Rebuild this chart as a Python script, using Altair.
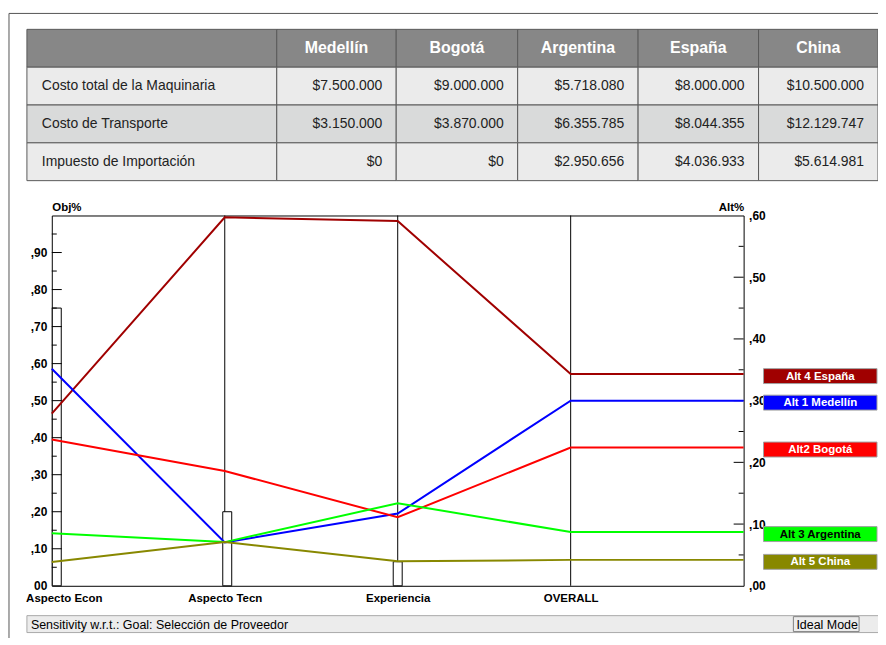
import altair as alt
import pandas as pd

# ---------------- data ----------------
table_columns = ["Medellín", "Bogotá", "Argentina", "España", "China"]
table_rows = ["Costo total de la Maquinaria", "Costo de Transporte", "Impuesto de Importación"]
costo_maquinaria = ["$7.500.000", "$9.000.000", "$5.718.080", "$8.000.000", "$10.500.000"]
costo_transporte = ["$3.150.000", "$3.870.000", "$6.355.785", "$8.044.355", "$12.129.747"]
impuesto_importacion = ["$0", "$0", "$2.950.656", "$4.036.933", "$5.614.981"]

criteria = ["Aspecto Econ", "Aspecto Tecn", "Experiencia", "OVERALL"]
criteria_weights = [0.75, 0.20, 0.065]          # Obj% bars
alternatives = ["Alt 4 España", "Alt 1 Medellín", "Alt2 Bogotá", "Alt 3 Argentina", "Alt 5 China"]
alt_colors = ["#a00000", "#0000ff", "#ff0000", "#00ff00", "#888800"]
# Obj% of each alternative at Aspecto Econ, Aspecto Tecn, Experiencia
espana_obj = [0.465, 0.995, 0.985]
medellin_obj = [0.586, 0.117, 0.195]
bogota_obj = [0.395, 0.310, 0.185]
argentina_obj = [0.142, 0.118, 0.223]
china_obj = [0.064, 0.118, 0.066]
# Alt% overall
overall_alt = [0.343, 0.300, 0.224, 0.087, 0.042]

left_major = [0.1, 0.2, 0.3, 0.4, 0.5, 0.6, 0.7, 0.8, 0.9]
left_minor = [0.05, 0.15, 0.25, 0.35, 0.45, 0.55, 0.65, 0.75, 0.85, 0.95]
right_major = [0.1, 0.2, 0.3, 0.4, 0.5]
right_minor = [0.05, 0.15, 0.25, 0.35, 0.45, 0.55]
ALT_MAX = 0.6

# ---------------- layout ----------------
PLOT_L, PLOT_T, PLOT_W, PLOT_H = 52, 215, 695, 372
col_edges = [27, 278, 398, 520, 641, 762, 882]
row_edges = [28, 66, 104, 142, 180]
row_bg = ["#878787", "#ebebeb", "#d9dada", "#ebebeb"]
FONT = "Liberation Sans"
TFONT = "Liberation Sans"


def rx(px):
    return px - PLOT_L


def ry(py):
    return py - PLOT_T


one = pd.DataFrame([{"k": 0}])

# ---------------- table ----------------
cells = []
for r in range(4):
    for c in range(6):
        cells.append({"x0": rx(col_edges[c]), "x1": rx(col_edges[c + 1]),
                      "y0": ry(row_edges[r]), "y1": ry(row_edges[r + 1]), "bg": row_bg[r]})
cells_df = pd.DataFrame(cells)

row_values = [costo_maquinaria, costo_transporte, impuesto_importacion]
head_txt, lab_txt, val_txt = [], [], []
for c, name in enumerate(table_columns):
    head_txt.append({"x": rx((col_edges[c + 1] + col_edges[c + 2]) / 2),
                     "y": ry((row_edges[0] + row_edges[1]) / 2), "t": name})
for r, name in enumerate(table_rows):
    yc = ry((row_edges[r + 1] + row_edges[r + 2]) / 2)
    lab_txt.append({"x": rx(col_edges[0] + 15), "y": yc, "t": name})
    for c in range(5):
        val_txt.append({"x": rx(col_edges[c + 2] - 14), "y": yc, "t": row_values[r][c]})

table_rect = alt.Chart(cells_df).mark_rect(stroke="#5a5a5a", strokeWidth=1).encode(
    x=alt.X("x0:Q", scale=None), x2="x1", y=alt.Y("y0:Q", scale=None), y2="y1",
    fill=alt.Fill("bg:N", scale=None))
table_head = alt.Chart(pd.DataFrame(head_txt)).mark_text(
    font=TFONT, fontSize=16, fontWeight="bold", color="white", align="center", baseline="middle"
).encode(x=alt.X("x:Q", scale=None), y=alt.Y("y:Q", scale=None), text="t:N")
table_lab = alt.Chart(pd.DataFrame(lab_txt)).mark_text(
    font=TFONT, fontSize=14, color="#222", align="left", baseline="middle"
).encode(x=alt.X("x:Q", scale=None), y=alt.Y("y:Q", scale=None), text="t:N")
table_val = alt.Chart(pd.DataFrame(val_txt)).mark_text(
    font=TFONT, fontSize=14, color="#222", align="right", baseline="middle"
).encode(x=alt.X("x:Q", scale=None), y=alt.Y("y:Q", scale=None), text="t:N")

frame_v = alt.Chart(one).mark_rule(color="#555", strokeWidth=1).encode(
    x=alt.value(rx(9)), y=alt.value(ry(12)), y2=alt.value(ry(660)))
frame_h = alt.Chart(one).mark_rule(color="#555", strokeWidth=1).encode(
    x=alt.value(rx(9)), x2=alt.value(rx(900)), y=alt.value(ry(12)))

# ---------------- sensitivity chart ----------------
xs = alt.Scale(domain=[0, 4], nice=False, zero=False)
ys = alt.Scale(domain=[0, 1], nice=False)
ys_r = alt.Scale(domain=[0, ALT_MAX], nice=False)

obj_lists = [espana_obj, medellin_obj, bogota_obj, argentina_obj, china_obj]
line_rows = []
for i, a in enumerate(alternatives):
    for j, v in enumerate(obj_lists[i]):
        line_rows.append({"alt": a, "x": j, "y": v})
    line_rows.append({"alt": a, "x": 3, "y": overall_alt[i] / ALT_MAX})
    line_rows.append({"alt": a, "x": 4, "y": overall_alt[i] / ALT_MAX})
lines_df = pd.DataFrame(line_rows)

color_scale = alt.Scale(domain=alternatives, range=alt_colors)

x_label_expr = "[" + ",".join("'" + c + "'" for c in criteria) + "][datum.value]"
x_axis = alt.Axis(values=[0, 1, 2, 3], labelExpr=x_label_expr, title=None, grid=False,
                  domain=False, ticks=False, labelFont=FONT, labelFontSize=11.5,
                  labelFontWeight="bold", labelColor="black", labelPadding=7,
                  labelFlush=False, labelOverlap=False, labelBound=False,
                  labelOffset={"condition": {"test": "datum.value == 0", "value": 12}, "value": 0})
left_axis = alt.Axis(values=[0] + left_major, title="Obj%", titleAngle=0, titleX=0, titleY=-3,
                     titleAlign="left", titleBaseline="bottom", titleFont=FONT, titleFontSize=11.5,
                     titleFontWeight="bold", titleColor="black",
                     labelExpr="datum.value < 0.001 ? '00' : ',' + format(round(datum.value*100), '02d')",
                     grid=False, domain=False, ticks=False, labelFont=FONT, labelFontSize=12,
                     labelFontWeight="bold", labelColor="black", labelPadding=5,
                     labelFlush=False, labelOverlap=False)
right_axis = alt.Axis(orient="right", values=[0, 0.1, 0.2, 0.3, 0.4, 0.5, 0.6], title="Alt%",
                      titleAngle=0, titleX=0, titleY=-3, titleAlign="right", titleBaseline="bottom",
                      titleFont=FONT, titleFontSize=11.5, titleFontWeight="bold", titleColor="black",
                      labelExpr="',' + format(round(datum.value*100), '02d')",
                      grid=False, domain=False, ticks=False, labelFont=FONT, labelFontSize=12,
                      labelFontWeight="bold", labelColor="black", labelPadding=5,
                      labelFlush=False, labelOverlap=False)

crit_rules = alt.Chart(pd.DataFrame({"p": [1, 2, 3]})).mark_rule(color="black", strokeWidth=1).encode(
    x=alt.X("p:Q", scale=xs, axis=None), y=alt.value(0), y2=alt.value(PLOT_H))

bars = alt.Chart(pd.DataFrame({"p": [0, 1, 2], "w": criteria_weights})).mark_bar(
    size=9, fill="white", stroke="black", strokeWidth=1).encode(
    x=alt.X("p:Q", scale=xs, axis=None), y=alt.Y("w:Q", scale=ys, axis=None), y2=alt.Y2(datum=0))

lt_major = alt.Chart(pd.DataFrame({"v": left_major})).mark_rule(color="black").encode(
    x=alt.value(0), x2=alt.value(10), y=alt.Y("v:Q", scale=ys, axis=None))
lt_minor = alt.Chart(pd.DataFrame({"v": left_minor})).mark_rule(color="black").encode(
    x=alt.value(0), x2=alt.value(5), y=alt.Y("v:Q", scale=ys, axis=None))
rt_major = alt.Chart(pd.DataFrame({"v": right_major})).mark_rule(color="black").encode(
    x=alt.value(PLOT_W - 10), x2=alt.value(PLOT_W), y=alt.Y("v:Q", scale=ys_r, axis=right_axis))
rt_minor = alt.Chart(pd.DataFrame({"v": right_minor})).mark_rule(color="black").encode(
    x=alt.value(PLOT_W - 5), x2=alt.value(PLOT_W), y=alt.Y("v:Q", scale=ys_r, axis=None))

lines = alt.Chart(lines_df).mark_line(strokeWidth=2).encode(
    x=alt.X("x:Q", scale=xs, axis=x_axis),
    y=alt.Y("y:Q", scale=ys, axis=left_axis),
    color=alt.Color("alt:N", scale=color_scale, legend=None),
    order="x:Q")

leg_df = pd.DataFrame({"alt": alternatives, "v": overall_alt})
leg_rect = alt.Chart(leg_df).mark_rect(stroke="#a0a0a0", strokeWidth=1, yOffset=-5.5, y2Offset=9.5).encode(
    x=alt.value(rx(767)), x2=alt.value(rx(881)),
    y=alt.Y("v:Q", scale=ys_r, axis=None), y2=alt.Y2("v:Q"),
    color=alt.Color("alt:N", scale=color_scale, legend=None))
leg_text = alt.Chart(leg_df).mark_text(font=FONT, fontSize=11.5, fontWeight="bold", align="center",
                                       baseline="middle", yOffset=2.5).encode(
    x=alt.value(rx(824)), y=alt.Y("v:Q", scale=ys_r, axis=None), text="alt:N",
    color=alt.condition("datum.alt == 'Alt 3 Argentina'", alt.value("black"), alt.value("white")))

status_bar = alt.Chart(one).mark_rect(fill="#ececec", stroke="#a8a8a8", strokeWidth=1).encode(
    x=alt.value(rx(27)), x2=alt.value(rx(900)), y=alt.value(ry(617)), y2=alt.value(ry(634)))
ideal_box = alt.Chart(one).mark_rect(fill="#ececec", stroke="#808080", strokeWidth=1).encode(
    x=alt.value(rx(797)), x2=alt.value(rx(863)), y=alt.value(ry(618)), y2=alt.value(ry(633)))
status_text = alt.Chart(one).mark_text(font=FONT, fontSize=12.5, color="black", align="left",
                                       baseline="middle", text="Sensitivity w.r.t.: Goal: Selección de Proveedor").encode(
    x=alt.value(rx(31)), y=alt.value(ry(626.5)))
ideal_text = alt.Chart(one).mark_text(font=FONT, fontSize=12.5, color="black", align="left",
                                      baseline="middle", text="Ideal Mode").encode(
    x=alt.value(rx(800)), y=alt.value(ry(626.5)))

chart = alt.layer(
    frame_v, frame_h, table_rect, table_head, table_lab, table_val,
    crit_rules, bars, lt_major, lt_minor, rt_major, rt_minor, lines,
    leg_rect, leg_text, status_bar, ideal_box, status_text, ideal_text,
).resolve_scale(x="independent", y="independent", color="independent").properties(
    width=PLOT_W, height=PLOT_H,
    autosize=alt.AutoSizeParams(type="none"),
    padding={"left": PLOT_L - 8, "top": PLOT_T - 8, "right": 874 - (PLOT_L - 8 + PLOT_W),
             "bottom": 630 - (PLOT_T - 8 + PLOT_H)},
    background="white",
).configure_view(stroke="#000", strokeWidth=1)

chart.save("out.html", embed_options={"renderer": "svg", "actions": False})
